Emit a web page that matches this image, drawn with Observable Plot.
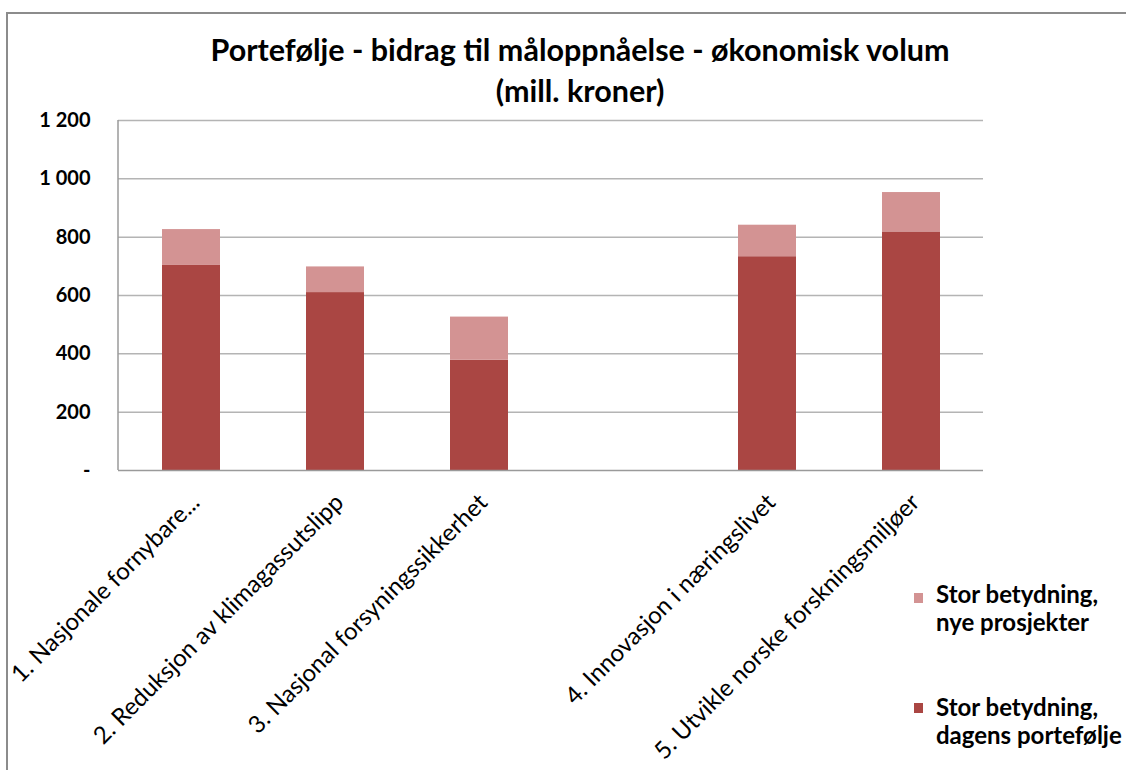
<!DOCTYPE html>
<html>
<head>
<meta charset="utf-8">
<script src="https://cdn.jsdelivr.net/npm/d3@7"></script>
<script src="https://cdn.jsdelivr.net/npm/@observablehq/plot@0.6"></script>
<style>
  html, body { margin: 0; padding: 0; background: #fff; }
  #wrap { position: relative; width: 1126px; height: 770px; overflow: hidden; font-family: Lato, "Open Sans", sans-serif; }
  #border { position: absolute; left: 6px; top: 12px; width: 1200px; height: 900px; border-left: 2px solid #8c8c8c; border-top: 2px solid #8c8c8c; }
  #title { position: absolute; left: 0; top: 29px; width: 1160px; text-align: center; font-weight: 700; font-size: 30.5px; line-height: 41px; color: #000; }
  #chart { position: absolute; left: 0; top: 0; }
  .leg { position: absolute; left: 936px; font-weight: 700; font-size: 24px; line-height: 28px; color: #000; white-space: nowrap; }
  .sw { position: absolute; left: 914px; width: 9px; height: 10px; }
</style>
</head>
<body>
<div id="wrap">
  <div id="border"></div>
  <div id="chart"></div>
  <div id="title">Portefølje - bidrag til måloppnåelse - økonomisk volum<br>(mill. kroner)</div>
  <div id="legend"></div>
</div>
<script>
const categories = [
  "1. Nasjonale fornybare...",
  "2. Reduksjon av klimagassutslipp",
  "3. Nasjonal forsyningssikkerhet",
  " ",
  "4. Innovasjon i næringslivet",
  "5. Utvikle norske forskningsmiljøer"
];
const seriesNames = ["Stor betydning, dagens portefølje", "Stor betydning, nye prosjekter"];
const legendLines = [["Stor betydning,", "nye prosjekter"], ["Stor betydning,", "dagens portefølje"]];
const dagens = [703, 610, 378, null, 733, 818];
const nye = [123, 88, 148, null, 108, 135];
const yTicks = [0, 200, 400, 600, 800, 1000, 1200];
const yTickLabels = ["-", "200", "400", "600", "800", "1 000", "1 200"];
const colors = ["#AA4643", "#D39393"];

const rows = [];
categories.forEach((c, i) => {
  if (dagens[i] != null) rows.push({cat: c, series: seriesNames[0], value: dagens[i]});
  if (nye[i] != null) rows.push({cat: c, series: seriesNames[1], value: nye[i]});
});

const leftLine = (index, scales, values, dims) => {
  const ns = "http://www.w3.org/2000/svg";
  const l = document.createElementNS(ns, "line");
  const x = dims.marginLeft;
  l.setAttribute("x1", x); l.setAttribute("x2", x);
  l.setAttribute("y1", scales.y(1200)); l.setAttribute("y2", scales.y(0));
  l.setAttribute("stroke", "#9a9a9a"); l.setAttribute("stroke-width", 1.5);
  return l;
};

const plot = Plot.plot({
  width: 1126,
  height: 770,
  marginLeft: 118,
  marginRight: 143,
  marginTop: 120,
  marginBottom: 300,
  style: {fontFamily: "Lato, sans-serif", fontSize: "20px", color: "#000", background: "transparent"},
  x: {domain: categories, paddingInner: 0.6, paddingOuter: 0.3, axis: null},
  y: {domain: [0, 1200], ticks: yTicks},
  color: {domain: seriesNames, range: colors},
  marks: [
    Plot.ruleY(yTicks.filter(d => d > 0), {stroke: "#b4b4b4", strokeWidth: 1.5}),
    Plot.barY(rows, {x: "cat", y: "value", fill: "series", order: seriesNames}),
    Plot.ruleY([0], {stroke: "#9a9a9a", strokeWidth: 1.5}),
    leftLine,
    Plot.axisY({ticks: yTicks, tickFormat: d => yTickLabels[yTicks.indexOf(d)], tickSize: 0, tickPadding: 28, fontWeight: "bold", fontSize: 20, label: null}),
    Plot.text(categories, {x: d => d, y: () => 0, text: d => d, rotate: -45, textAnchor: "end", dx: 4, dy: 28, fontSize: 24, fill: "#000"})
  ]
});
document.getElementById("chart").appendChild(plot);

const legend = document.getElementById("legend");
const legTops = [580, 693];
const legColors = [colors[1], colors[0]];
const swTops = [593, 703];
legendLines.forEach((lines, i) => {
  const sw = document.createElement("div");
  sw.className = "sw"; sw.style.top = swTops[i] + "px"; sw.style.background = legColors[i];
  legend.appendChild(sw);
  const t = document.createElement("div");
  t.className = "leg"; t.style.top = legTops[i] + "px";
  t.innerHTML = lines.join("<br>");
  legend.appendChild(t);
});
</script>
</body>
</html>
